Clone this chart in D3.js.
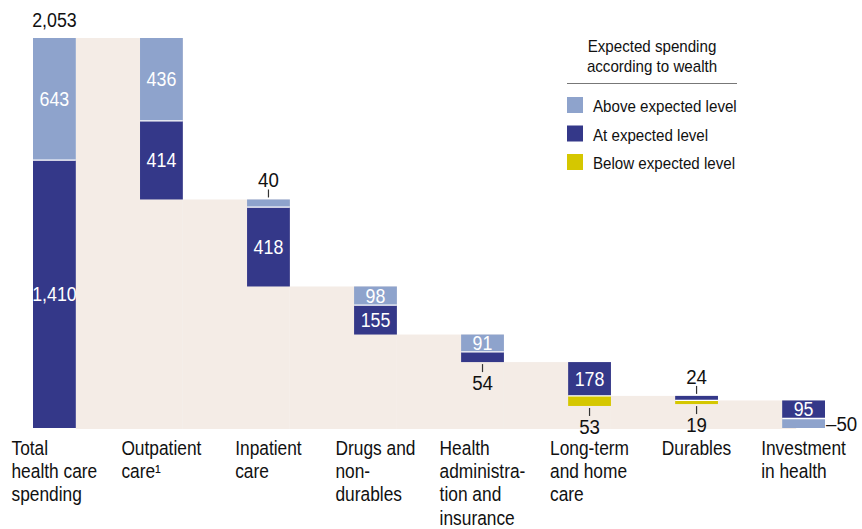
<!DOCTYPE html>
<html>
<head>
<meta charset="utf-8">
<script src="https://cdn.jsdelivr.net/npm/d3@7"></script>
<style>
  body { margin: 0; background: #fff; }
  text { font-family: "Liberation Sans", Arial, sans-serif; }
</style>
</head>
<body>
<div id="viz"></div>
<script>
// category labels, one entry per line
var categories = [
  ["Total", "health care", "spending"],
  ["Outpatient", "care¹"],
  ["Inpatient", "care"],
  ["Drugs and", "non-", "durables"],
  ["Health", "administra-", "tion and", "insurance"],
  ["Long-term", "and home", "care"],
  ["Durables"],
  ["Investment", "in health"]
];
var aboveVals = [643, 436, 40, 98, 91, 0, 0, -50];
var atVals    = [1410, 414, 418, 155, 54, 178, 24, 95];
var belowVals = [0, 0, 0, 0, 0, 53, 19, 0];
var totalLabel = "2,053";

var legendTitle = ["Expected spending", "according to wealth"];
var legendItems = ["Above expected level", "At expected level", "Below expected level"];

var colors = { above: "#8ea3cc", at: "#343889", below: "#d5c700" };
var beige = "#f4ece6";

var width = 862, height = 529;
var SX = 0.89; // squeeze the sans into a condensed look

var svg = d3.select("#viz").append("svg")
  .attr("width", width)
  .attr("height", height);

// a little helper for condensed text
function label(parent, x, y, str, size, anchor, fill){
  return parent.append("text")
    .attr("transform", "translate(" + x + "," + y + ") scale(" + SX + ",1)")
    .attr("text-anchor", anchor || "start")
    .attr("fill", fill || "#111")
    .style("font-size", size + "px")
    .text(str);
}

var keys = categories.map(function(d, i){ return "c" + i });

var x = d3.scaleBand()
  .domain(keys)
  .range([33, 825])
  .paddingInner(0.6)
  .paddingOuter(0);

var total = aboveVals[0] + atVals[0];

var y = d3.scaleLinear()
  .domain([0, total])
  .range([428, 38]);

// work out the waterfall: each bar stacks down from what is left
var bars = [];
var remaining = total;
categories.forEach(function(c, i){
  var segs = [];
  var top = i === 0 ? total : remaining;
  var level = top;
  function push(type, v){
    if (!v) return;
    segs.push({type: type, value: v, y0: level, y1: level - Math.abs(v)});
    level -= Math.abs(v);
  }
  if (aboveVals[i] > 0) push("above", aboveVals[i]);
  push("at", atVals[i]);
  if (aboveVals[i] < 0) push("above", aboveVals[i]);
  if (i > 0) remaining = level;
  push("below", belowVals[i]);
  bars.push({key: keys[i], segs: segs, after: i === 0 ? total : remaining});
});

// beige band behind the bars
var bw = x.bandwidth();
svg.append("g").selectAll("rect")
  .data(bars.slice(0, bars.length - 1))
  .enter().append("rect")
    .attr("x", function(d){ return x(d.key) + bw })
    .attr("width", function(d, i){ return x(keys[i + 1]) - x(d.key) + (i === bars.length - 2 ? 14 - bw : 0) })
    .attr("y", function(d){ return y(d.after) })
    .attr("height", function(d){ return y(0) - y(d.after) + 1 })
    .attr("fill", beige);

var bar = svg.append("g").selectAll("g")
  .data(bars)
  .enter().append("g");

bar.selectAll("rect")
  .data(function(d){ return d.segs.map(function(s){ s.key = d.key; return s }) })
  .enter().append("rect")
    .attr("x", function(d){ return x(d.key) })
    .attr("width", bw)
    .attr("y", function(d){ return y(d.y0) })
    .attr("height", function(d){ return y(d.y1) - y(d.y0) })
    .attr("fill", function(d){ return colors[d.type] });

// thin white seams between stacked pieces
bar.selectAll("line.seam")
  .data(function(d){ return d.segs.slice(1) })
  .enter().append("line")
    .attr("class", "seam")
    .attr("x1", function(d){ return x(d.key) })
    .attr("x2", function(d){ return x(d.key) + bw })
    .attr("y1", function(d){ return y(d.y0) })
    .attr("y2", function(d){ return y(d.y0) })
    .attr("stroke", "#fff")
    .attr("stroke-width", 1.3);

// value labels
var fmt = d3.format(",");
var vl = svg.append("g");
bars.forEach(function(b){
  var cx = x(b.key) + bw / 2;
  b.segs.forEach(function(s, si){
    var h = y(s.y1) - y(s.y0);
    var ym = (y(s.y0) + y(s.y1)) / 2;
    if (h >= 14) {
      label(vl, cx, ym + 7, fmt(s.value), 20, "middle", "#fff");
    } else if (s.value < 0) {
      label(vl, x(b.key) + bw + 1, ym + 8, "–" + fmt(-s.value), 21);
    } else if (si === 0) {
      var t = y(s.y0);
      vl.append("line")
        .attr("x1", cx).attr("x2", cx)
        .attr("y1", t - 10).attr("y2", t - 2)
        .attr("stroke", "#333").attr("stroke-width", 1.2);
      label(vl, cx, t - 12, fmt(s.value), 21, "middle");
    } else {
      var bt = y(s.y1);
      vl.append("line")
        .attr("x1", cx).attr("x2", cx)
        .attr("y1", bt + 2).attr("y2", bt + 10)
        .attr("stroke", "#333").attr("stroke-width", 1.2);
      label(vl, cx, bt + 28, fmt(s.value), 21, "middle");
    }
  });
});

label(svg, x(keys[0]) + bw / 2, y(total) - 11, totalLabel, 20, "middle");

// category labels: left aligned, block centred on the bar
var cat = svg.append("g").selectAll("text")
  .data(categories)
  .enter().append("text")
    .attr("fill", "#111")
    .style("font-size", "19.5px");

cat.selectAll("tspan")
  .data(function(d){ return d })
  .enter().append("tspan")
    .attr("x", 0)
    .attr("dy", function(d, i){ return i === 0 ? 0 : 23.2 })
    .text(function(d){ return d });

cat.each(function(d, i){
  var w = 0;
  d3.select(this).selectAll("tspan").each(function(){ w = Math.max(w, this.getComputedTextLength()) });
  var left = x(keys[i]) + bw / 2 - w * SX / 2;
  d3.select(this).attr("transform", "translate(" + left + ",455) scale(" + SX + ",1)");
});

// legend
var lg = svg.append("g");
legendTitle.forEach(function(t, i){
  label(lg, 652, 52 + i * 20, t, 17, "middle");
});

lg.append("line")
  .attr("x1", 567).attr("x2", 737)
  .attr("y1", 83.5).attr("y2", 83.5)
  .attr("stroke", "#777").attr("stroke-width", 1);

var item = lg.selectAll("g.item")
  .data(legendItems)
  .enter().append("g")
    .attr("class", "item")
    .attr("transform", function(d, i){ return "translate(567," + (97 + i * 28.5) + ")" });

item.append("rect")
  .attr("width", 16).attr("height", 16)
  .attr("fill", function(d, i){ return [colors.above, colors.at, colors.below][i] });

item.each(function(d){
  label(d3.select(this), 26, 15, d, 17);
});
</script>
</body>
</html>
